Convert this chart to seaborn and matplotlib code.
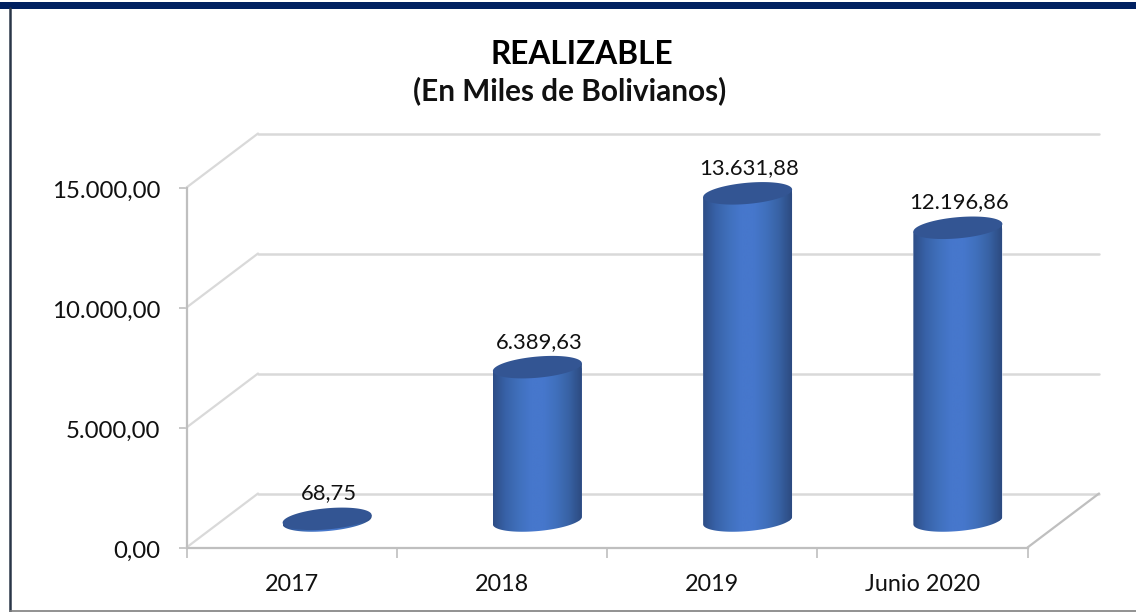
import numpy as np
import pandas as pd
import matplotlib
matplotlib.use("Agg")
import matplotlib.pyplot as plt
import seaborn as sns
from matplotlib.colors import LinearSegmentedColormap
from matplotlib.lines import Line2D
from matplotlib.patches import Polygon, Rectangle
from matplotlib.transforms import ScaledTranslation

categories = ["2017", "2018", "2019", "Junio 2020"]
values = [68.75, 6389.63, 13631.88, 12196.86]
value_labels = ["68,75", "6.389,63", "13.631,88", "12.196,86"]
y_ticks = [0, 5000, 10000, 15000]
y_tick_labels = ["0,00", "5.000,00", "10.000,00", "15.000,00"]

W, H = 1136, 612
sns.set_theme(style="white")
plt.rcParams["font.family"] = ["Lato", "DejaVu Sans"]
fig = plt.figure(figsize=(W / 100, H / 100), dpi=100, facecolor="white")


def axes_px(x0, x1, ytop, ybot):
    return fig.add_axes([x0 / W, 1 - ybot / H, (x1 - x0) / W, (ybot - ytop) / H])


FX0, FX1, FT, FB = 186.5, 1027.5, 187.5, 547.5
px_x = (FX1 - FX0) / 4
px_y = (FB - FT) / 15000
DEPTH_X, DEPTH_Y = 71.5, 54.0
GRID = "#D9D9D9"
AXIS = "#BFBFBF"

# front plane: axes, ticks, labels and the back wall drawn in data units
ax = axes_px(FX0, FX1, FT, FB)
ax.set_xlim(-0.5, 3.5)
ax.set_ylim(0, 15000)
ax.patch.set_alpha(0)
for s in ["top", "right"]:
    ax.spines[s].set_visible(False)
for s in ["left", "bottom"]:
    ax.spines[s].set_color(AXIS)
    ax.spines[s].set_linewidth(1.6)
ax.set_yticks(y_ticks, y_tick_labels, fontsize=17.3, color="#111111")
ax.tick_params(axis="y", length=6, width=1.2, color=AXIS, pad=13, left=True)
for lab in ax.get_yticklabels():
    lab.set_transform(lab.get_transform() + ScaledTranslation(0, -2 / 100, fig.dpi_scale_trans))
ax.set_xticks(range(4), categories, fontsize=16.8, color="#111111")
ax.tick_params(axis="x", which="major", length=0, pad=19)
ax.set_xticks(np.arange(-0.5, 4), minor=True)
ax.tick_params(axis="x", which="minor", length=7, width=1.2, color=AXIS, bottom=True)

dx = DEPTH_X / px_x
dy = DEPTH_Y / px_y
for v in y_ticks:
    ax.plot([-0.5, -0.5 + dx], [v, v + dy], color=GRID, lw=1.6, clip_on=False, zorder=1)
    ax.plot([-0.5 + dx, 3.5 + dx], [v + dy, v + dy], color=GRID, lw=1.8, clip_on=False, zorder=1)
ax.plot([3.5, 3.5 + dx], [0, dy], color=AXIS, lw=1.6, clip_on=False, zorder=1)

# bars sit half way into the depth; the axes reach below zero for the lower rim
BAR_DX, BAR_DY = 35.5, 27.0
LOW = -1000
ax2 = axes_px(FX0 + BAR_DX, FX1 + BAR_DX, FT - BAR_DY, FB - BAR_DY - LOW * px_y)
ax2.patch.set_alpha(0)
df = pd.DataFrame({"periodo": categories, "valor": values})
bar_w = 89 / px_x
sns.barplot(data=df, x="periodo", y="valor", order=categories, color="#4472C4",
            saturation=1, width=bar_w, ax=ax2, zorder=2)
ax2.set_xlim(-0.5, 3.5)
ax2.set_ylim(LOW, 15000)
ax2.axis("off")

cmap = LinearSegmentedColormap.from_list(
    "cyl", ["#2D4D86", "#3862A8", "#4070BC", "#4677CC", "#4677CC", "#4070BC", "#3862A4", "#2C4A80"])
grad = np.linspace(0, 1, 256).reshape(1, -1)
ARC_A = 10.6 / px_y
ARC_B = 3.8 / px_y
t = np.linspace(0, 2 * np.pi, 121)
for i, (bar, v) in enumerate(zip(ax2.patches, values)):
    cos_t, sin_t = np.cos(t), np.sin(t)
    ex = i + bar_w / 2 * cos_t
    lower = t[(t >= np.pi)]
    lx = i + bar_w / 2 * np.cos(lower)
    ly = ARC_A * np.sin(lower) + ARC_B * np.cos(lower)
    # outline of the side: lower arc, then up to the top rim
    side = np.vstack([np.column_stack([lx, ly]),
                      [[i + bar_w / 2, v + ARC_B], [i - bar_w / 2, v - ARC_B]]])
    clip = Polygon(side, closed=True, transform=ax2.transData)
    bar.set_clip_path(clip)
    im = ax2.imshow(grad, cmap=cmap, aspect="auto", interpolation="bilinear", zorder=3,
                    extent=(i - bar_w / 2, i + bar_w / 2, LOW, v + 2 * ARC_A))
    im.set_clip_path(clip)
    top = np.column_stack([ex, v + ARC_A * sin_t + ARC_B * cos_t])
    ax2.add_patch(Polygon(top, closed=True, facecolor="#335593", edgecolor="none", zorder=4))
    ax2.annotate(value_labels[i], (i, v), xytext=(1, 18.2), textcoords="offset points",
                 ha="center", va="center", fontsize=15.8, color="#111111", zorder=5)
ax2.set_xlim(-0.5, 3.5)
ax2.set_ylim(LOW, 15000)

fig.text(582 / W, 1 - 55 / H, "REALIZABLE", ha="center", va="center",
         fontsize=22.8, fontweight="bold", color="black")
fig.text(570 / W, 1 - 91 / H, "(En Miles de Bolivianos)", ha="center", va="center",
         fontsize=21.4, fontweight="bold", color="#111111")

# slide frame
fig.add_artist(Rectangle((0, 1 - 8.5 / H), 1, 6.5 / H, transform=fig.transFigure,
                         facecolor="#002060", edgecolor="none"))
fig.add_artist(Line2D([9.5 / W, 9.5 / W], [0, 1 - 8 / H], color="#2A3648", lw=1.8))
fig.add_artist(Line2D([9.5 / W, 1], [1 - 610.5 / H, 1 - 610.5 / H], color="#7F7F7F", lw=1.2))

fig.savefig("out.png", dpi=100, facecolor="white")
